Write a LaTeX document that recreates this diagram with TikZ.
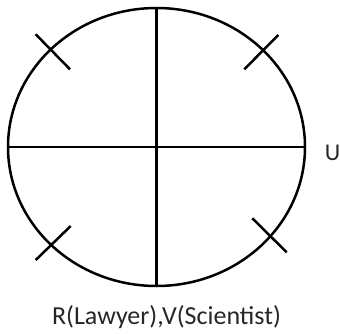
\documentclass[tikz,border=0pt]{standalone}
\usepackage{fontspec}
\setmainfont{Carlito}
\begin{document}
\begin{tikzpicture}[x=1pt,y=-1pt,
  stroke/.style={line width=2.5pt,black},
  lbl/.style={inner sep=0pt,text=black!85}]
\useasboundingbox (0,0) rectangle (340,334);
\coordinate (c) at (156.5,147);
\draw[stroke] (c) ellipse [x radius=148.5,y radius=139];
\draw[stroke] (8,147) -- (305,147);
\draw[stroke] (156.5,8) -- (156.5,286);
\draw[stroke] (35.7,34.3) -- (70,69.3);
\draw[stroke] (278.3,35) -- (244.3,69.3);
\draw[stroke] (70.7,226) -- (35.7,260);
\draw[stroke] (252.3,218.3) -- (286.7,252.3);
\node[lbl,font=\fontsize{24}{28}\selectfont] (u) at (332.5,152.5) {U};
\node[lbl,font=\fontsize{26}{30}\selectfont] (rv) at (166.5,317) {R(Lawyer),V(Scientist)};
\end{tikzpicture}
\end{document}
